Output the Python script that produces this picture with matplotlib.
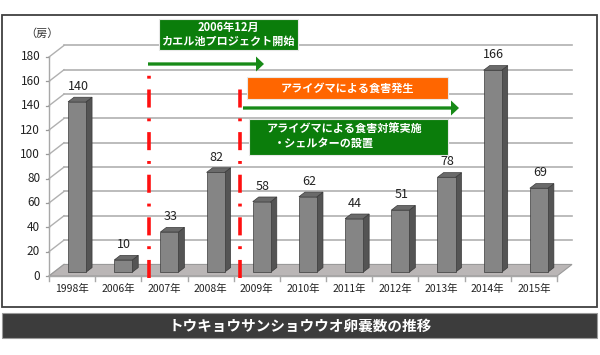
import matplotlib
matplotlib.use("Agg")
import matplotlib.pyplot as plt
from matplotlib.patches import Polygon, Rectangle

plt.rcParams['font.family'] = ['Noto Sans CJK JP', 'DejaVu Sans']

# ---- data ----
years = ["1998年", "2006年", "2007年", "2008年", "2009年", "2010年",
         "2011年", "2012年", "2013年", "2014年", "2015年"]
counts = [140, 10, 33, 82, 58, 62, 44, 51, 78, 166, 69]
yticks = [0, 20, 40, 60, 80, 100, 120, 140, 160, 180]
unit_label = "（房）"
title = "トウキョウサンショウウオ卵嚢数の推移"
note1 = ["2006年12月", "カエル池プロジェクト開始"]
note2 = "アライグマによる食害発生"
note3 = ["アライグマによる食害対策実施", "・シェルターの設置"]
event_boundaries = [1.5, 3.5]   # between 2006/2007 and 2008/2009

W, H = 600, 355
fig = plt.figure(figsize=(W / 100, H / 100), dpi=100)
fig.patch.set_facecolor("white")


def P(x, y):
    return (x / W, 1 - y / H)


# outer frame
fig.patches.append(Rectangle(P(2, 307), 595 / W, (307 - 15) / H, transform=fig.transFigure,
                             facecolor="none", edgecolor="#404040", lw=1.3, zorder=0))
# title band
fig.patches.append(Rectangle(P(2, 338), 595 / W, (338 - 313) / H, transform=fig.transFigure,
                             facecolor="#3c3c3c", edgecolor="#9a9a9a", lw=0.8, zorder=0))
fig.text(300 / W, 1 - 326 / H, title, color="white", fontsize=10.5, fontweight="bold",
         ha="center", va="center")

# main axes: x categories, y values
ax = fig.add_axes([49 / W, 1 - 276 / H, (557 - 49) / W, (276 - 57) / H])
ax.set_xlim(-0.5, len(years) - 0.5)
ax.set_ylim(0, 180)
ax.axis("off")

DX, DY = 0.325, 9.5  # depth offsets (category units, value units)
x0, x1 = -0.5, len(years) - 0.5
grid_c = "#b0b0b0"

# floor
ax.add_patch(Polygon([(x0, 0), (x1, 0), (x1 + DX, DY), (x0 + DX, DY)], closed=True,
                     facecolor="#bab6b6", edgecolor="#9a9a9a", lw=0.8, clip_on=False, zorder=1))

# gridlines (back wall + side wall diagonals)
for v in yticks:
    if v > 0:
        ax.plot([x0 + DX, x1 + DX], [v + DY, v + DY], color=grid_c, lw=1.2, clip_on=False, zorder=0.5)
    ax.plot([x0, x0 + DX], [v, v + DY], color=grid_c, lw=1.0, clip_on=False, zorder=0.5)
    ax.plot([x0 - 0.06, x0], [v, v], color="#999999", lw=0.9, clip_on=False, zorder=2)
    ax.text(x0 - 0.19, v, str(v), ha="right", va="center", fontsize=8.5, color="#222222")

# front axis lines and ticks
ax.plot([x0, x0], [0, 180], color="#a8a8a8", lw=1.0, clip_on=False, zorder=2)
ax.plot([x0, x1], [0, 0], color="#a8a8a8", lw=1.0, clip_on=False, zorder=2)
for k in range(len(years) + 1):
    ax.plot([x0 + k, x0 + k], [0, -4.5], color="#a8a8a8", lw=1.0, clip_on=False, zorder=2)

ax.text(-0.66, 199, unit_label, ha="center", va="center", fontsize=8, color="#333333")

# bars (pseudo 3-D)
f1, f2 = 0.33, 0.73
bw = 0.39
for i, (lab, v) in enumerate(zip(years, counts)):
    xl = i - bw / 2 + f1 * DX
    xr = xl + bw
    yb = f1 * DY
    yt = v + f1 * DY
    ddx, ddy = (f2 - f1) * DX, (f2 - f1) * DY
    # side
    ax.add_patch(Polygon([(xr, yb), (xr + ddx, yb + ddy), (xr + ddx, yt + ddy), (xr, yt)],
                         closed=True, facecolor="#545454", edgecolor="#3a3a3a", lw=0.5,
                         clip_on=False, zorder=3))
    # top
    ax.add_patch(Polygon([(xl, yt), (xr, yt), (xr + ddx, yt + ddy), (xl + ddx, yt + ddy)],
                         closed=True, facecolor="#6a6a6a", edgecolor="#3a3a3a", lw=0.5,
                         clip_on=False, zorder=3))
    # front
    ax.add_patch(Polygon([(xl, yb), (xr, yb), (xr, yt), (xl, yt)], closed=True,
                         facecolor="#858585", edgecolor="#3a3a3a", lw=0.5,
                         clip_on=False, zorder=3))
    ax.annotate(str(v), ((xl + xr) / 2 + 0.02, yt + ddy), xytext=(0, 3), textcoords="offset points",
                ha="center", va="bottom", fontsize=9, color="#222222", zorder=4)
    ax.text(i, -10.8, lab, ha="center", va="center", fontsize=7.5, color="#222222")

# red event lines
for xb, sh in zip(event_boundaries, [0.17, 0.13]):
    ax.plot([xb + sh, xb + sh], [-2, 171 if xb < 2 else 162], color="#ff1010", lw=2.6,
            dashes=(5, 3, 0.8, 3), clip_on=False, zorder=5)


def arrow(xa, xb, y, color="#178a17"):
    head_l, head_h, thick = 8, 15, 3.3
    pts = [(xa, y - thick / 2), (xb - head_l, y - thick / 2), (xb - head_l, y - head_h / 2),
           (xb, y), (xb - head_l, y + head_h / 2), (xb - head_l, y + thick / 2), (xa, y + thick / 2)]
    fig.patches.append(Polygon([P(*p) for p in pts], closed=True, transform=fig.transFigure,
                               facecolor=color, edgecolor="none", zorder=6))


def box(xa, ya, xb, yb, color):
    fig.patches.append(Rectangle(P(xa, yb), (xb - xa) / W, (yb - ya) / H, transform=fig.transFigure,
                                 facecolor=color, edgecolor="#e8e8e8", lw=0.8, zorder=6))


# annotation 1
box(159, 19, 298, 50, "#0b7d0b")
fig.text(228 / W, 1 - 27.5 / H, note1[0], color="white", fontsize=8, fontweight="bold",
         ha="center", va="center", zorder=7)
fig.text(228 / W, 1 - 41.5 / H, note1[1], color="white", fontsize=8, fontweight="bold",
         ha="center", va="center", zorder=7)
arrow(148, 264, 64)

# annotation 2
box(247, 77, 448, 99, "#ff6600")
fig.text(348 / W, 1 - 88 / H, note2, color="white", fontsize=8, fontweight="bold",
         ha="center", va="center", zorder=7)
arrow(243, 459, 108)

# annotation 3
box(249, 119, 448, 155, "#0b7d0b")
fig.text(267 / W, 1 - 129.5 / H, note3[0], color="white", fontsize=8, fontweight="bold",
         ha="left", va="center", zorder=7)
fig.text(274 / W, 1 - 143.5 / H, note3[1], color="white", fontsize=8, fontweight="bold",
         ha="left", va="center", zorder=7)

fig.savefig("out.png", dpi=100)
